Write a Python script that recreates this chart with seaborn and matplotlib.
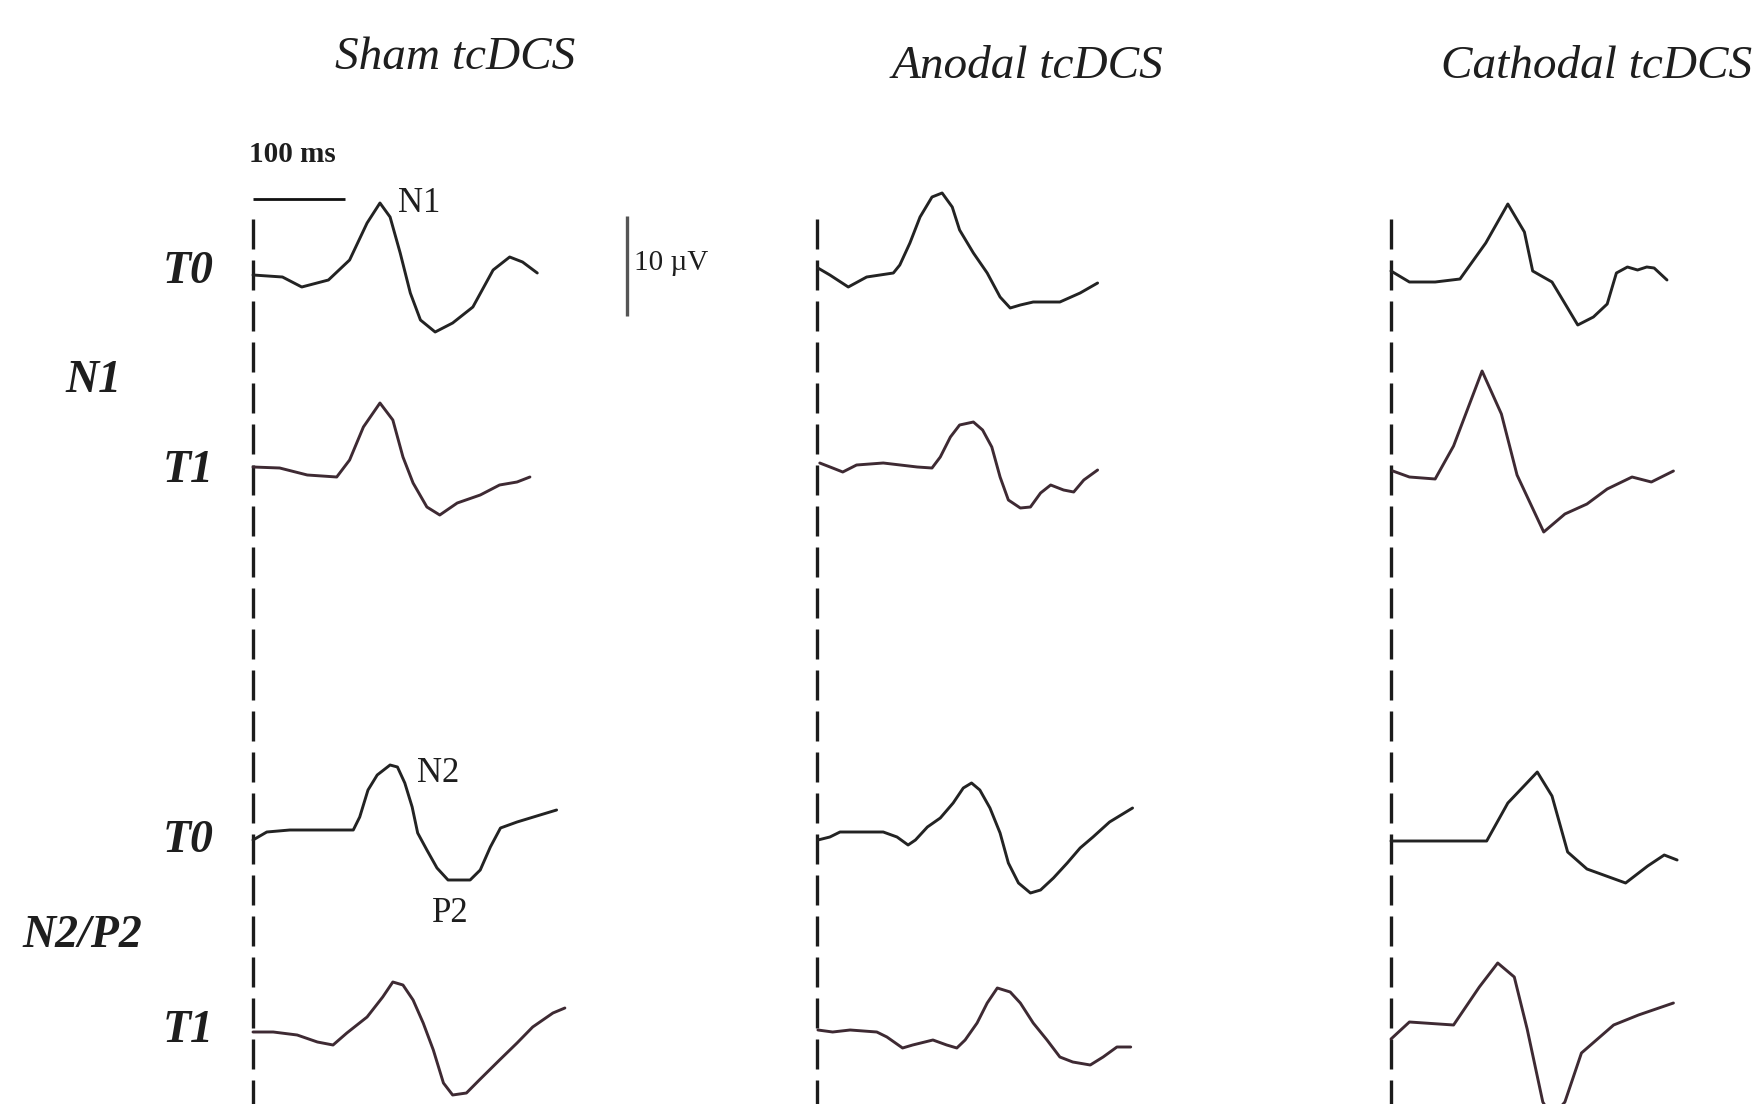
import numpy as np
import pandas as pd
import matplotlib
matplotlib.use('Agg')
import matplotlib.pyplot as plt
import seaborn as sns

# conditions (columns) and rows
conditions = ['Sham tcDCS', 'Anodal tcDCS', 'Cathodal tcDCS']
row_names = ['T0', 'T1', 'T0', 'T1']
row_offset = [0.0, 19.2, 56.0, 75.7]   # uV, stacking of the traces
component_labels = ['N1', 'N2/P2']

# time (ms) / amplitude (uV, negative up)
sham_t0_n1_t = [0, 32, 53, 82, 105, 124, 138, 149, 160, 171, 182, 198, 217, 239, 261, 279, 293, 309]
sham_t0_n1_v = [0, 0.2, 1.2, 0.5, -1.5, -5.2, -7.2, -5.8, -2.2, 1.8, 4.5, 5.7, 4.8, 3.2, -0.5, -1.8, -1.3, -0.2]
sham_t1_n1_t = [0, 29, 59, 91, 105, 120, 138, 152, 163, 174, 189, 203, 222, 247, 268, 287, 301]
sham_t1_n1_v = [0, 0.1, 0.8, 1.0, -0.7, -4.0, -6.4, -4.7, -1.0, 1.6, 4.0, 4.8, 3.6, 2.8, 1.8, 1.5, 1.0]
sham_t0_n2_t = [0, 15, 40, 76, 109, 116, 125, 135, 149, 157, 165, 173, 179, 189, 200, 212, 236, 247, 258, 269, 287, 312, 330]
sham_t0_n2_v = [0.5, -0.3, -0.5, -0.5, -0.5, -1.8, -4.5, -6.0, -7.0, -6.8, -5.2, -2.8, -0.2, 1.5, 3.3, 4.5, 4.5, 3.5, 1.2, -0.7, -1.3, -2.0, -2.5]
sham_t1_n2_t = [0, 22, 48, 70, 87, 102, 124, 141, 152, 163, 174, 185, 196, 207, 217, 232, 246, 268, 287, 304, 326, 339]
sham_t1_n2_v = [0, 0, 0.3, 1.0, 1.3, 0.1, -1.5, -3.5, -5.0, -4.7, -3.2, -0.9, 1.8, 5.1, 6.3, 6.1, 4.8, 2.8, 1.1, -0.5, -1.9, -2.4]

anod_t0_n1_t = [1, 14, 34, 54, 83, 90, 101, 112, 125, 136, 147, 155, 170, 185, 199, 210, 221, 235, 264, 286, 305]
anod_t0_n1_v = [-0.7, 0, 1.2, 0.2, -0.2, -1.0, -3.2, -5.8, -7.8, -8.2, -6.8, -4.5, -2.2, -0.2, 2.2, 3.3, 3.0, 2.7, 2.7, 1.8, 0.8]
anod_t1_n1_t = [3, 17, 28, 43, 72, 109, 125, 134, 145, 155, 170, 180, 190, 199, 208, 221, 232, 243, 254, 268, 279, 290, 305]
anod_t1_n1_v = [-0.4, 0.1, 0.5, -0.2, -0.4, 0, 0.1, -1.0, -3.0, -4.2, -4.5, -3.7, -2.0, 1.0, 3.3, 4.1, 4.0, 2.6, 1.8, 2.3, 2.5, 1.3, 0.3]
anod_t0_n2_t = [1, 14, 25, 72, 87, 99, 107, 120, 134, 148, 159, 168, 177, 188, 199, 208, 219, 232, 243, 257, 272, 286, 300, 318, 343]
anod_t0_n2_v = [0.5, 0.2, -0.3, -0.3, 0.2, 1.0, 0.5, -0.8, -1.7, -3.2, -4.7, -5.2, -4.5, -2.7, -0.2, 2.8, 4.8, 5.8, 5.5, 4.3, 2.8, 1.3, 0.2, -1.3, -2.7]
anod_t1_n2_t = [1, 17, 36, 65, 76, 93, 104, 126, 141, 152, 161, 174, 185, 196, 210, 221, 235, 250, 264, 278, 297, 311, 326, 341]
anod_t1_n2_v = [-0.2, 0, -0.2, 0, 0.5, 1.6, 1.3, 0.8, 1.3, 1.6, 0.8, -0.9, -2.9, -4.4, -4.0, -2.9, -0.9, 0.8, 2.5, 3.0, 3.3, 2.5, 1.5, 1.5]

cath_t0_n1_t = [0, 20, 48, 75, 103, 127, 145, 154, 175, 190, 203, 220, 235, 245, 257, 268, 278, 286, 300]
cath_t0_n1_v = [-0.4, 0.7, 0.7, 0.4, -3.2, -7.1, -4.3, -0.4, 0.7, 3.0, 5.0, 4.2, 2.9, -0.2, -0.8, -0.5, -0.8, -0.7, 0.5]
cath_t1_n1_t = [2, 20, 48, 68, 99, 120, 137, 166, 189, 213, 235, 262, 283, 307]
cath_t1_n1_v = [0.4, 1.0, 1.2, -2.1, -9.6, -5.3, 0.8, 6.5, 4.7, 3.7, 2.2, 1.0, 1.5, 0.4]
cath_t0_n2_t = [0, 104, 127, 159, 175, 192, 213, 255, 279, 297, 311]
cath_t0_n2_v = [0.6, 0.6, -3.2, -6.3, -3.9, 1.7, 3.4, 4.8, 3.1, 2.0, 2.5]
cath_t1_n2_t = [0, 20, 68, 96, 116, 134, 148, 165, 175, 189, 207, 242, 269, 307]
cath_t1_n2_v = [0.7, -1.0, -0.7, -4.5, -6.9, -5.5, -0.3, 7.0, 8.5, 7.0, 2.1, -0.7, -1.7, -2.9]

traces = [
    [(sham_t0_n1_t, sham_t0_n1_v), (sham_t1_n1_t, sham_t1_n1_v), (sham_t0_n2_t, sham_t0_n2_v), (sham_t1_n2_t, sham_t1_n2_v)],
    [(anod_t0_n1_t, anod_t0_n1_v), (anod_t1_n1_t, anod_t1_n1_v), (anod_t0_n2_t, anod_t0_n2_v), (anod_t1_n2_t, anod_t1_n2_v)],
    [(cath_t0_n1_t, cath_t0_n1_v), (cath_t1_n1_t, cath_t1_n1_v), (cath_t0_n2_t, cath_t0_n2_v), (cath_t1_n2_t, cath_t1_n2_v)],
]

# layout in pixels
W, H = 1758, 1104
PX_MS = 0.92     # px per ms
PX_UV = 10.0     # px per uV
Y0 = 275         # pixel row of the first baseline
col_x0 = [253, 817, 1391]
colors = {'T0': '#232323', 'T1': '#3e2a33'}

sns.set_theme(style='white')
plt.rcParams['font.family'] = ['Liberation Serif', 'DejaVu Serif']

fig = plt.figure(figsize=(W / 100, H / 100), dpi=100)
fig.patch.set_facecolor('white')

v_top = -Y0 / PX_UV
v_bot = (H - Y0) / PX_UV

axes = []
for c, x0 in enumerate(col_x0):
    left = x0 - 60
    right = min(x0 + 460, W)
    ax = fig.add_axes([left / W, 0, (right - left) / W, 1])
    ax.set_axis_off()
    ax.patch.set_alpha(0)
    # stimulus onset
    ax.vlines(0, -5.6, v_bot + 2, colors='#1c1c1c', lw=2.4, linestyles=(0, (9, 3.3)))
    for r, (tt, vv) in enumerate(traces[c]):
        df = pd.DataFrame({'t': tt, 'v': np.array(vv) + row_offset[r]})
        sns.lineplot(data=df, x='t', y='v', sort=False, estimator=None,
                     color=colors[row_names[r]], lw=2.1, ax=ax, legend=False,
                     solid_joinstyle='round', solid_capstyle='round')
    ax.set_xlim((left - x0) / PX_MS, (right - x0) / PX_MS)
    ax.set_ylim(v_bot, v_top)
    axes.append(ax)

# scale bars on sham panel
ax = axes[0]
ax.plot([0, 100], [-7.6, -7.6], color='#111111', lw=2.0, solid_capstyle='butt')
ax.plot([407, 407], [-5.9, 4.1], color='#555555', lw=2.4, solid_capstyle='butt')


def ftext(x, y, s, **kw):
    fig.text(x / W, 1 - y / H, s, **kw)


title_kw = dict(fontsize=34, fontstyle='italic', color='#1e1e1e', va='center')
ftext(455, 58, conditions[0], ha='center', **title_kw)
ftext(1027, 67, conditions[1], ha='center', **title_kw)
ftext(1441, 67, conditions[2], ha='left', **title_kw)

lab_kw = dict(fontsize=33, fontstyle='italic', fontweight='bold', color='#1e1e1e', va='center')
for r, yy in enumerate([272, 471, 841, 1031]):
    ftext(214, yy, row_names[r], ha='right', **lab_kw)
ftext(65, 381, component_labels[0], ha='left', **lab_kw)
ftext(22, 936, component_labels[1], ha='left', **lab_kw)

small_kw = dict(color='#1e1e1e', va='center', ha='left')
ftext(249, 154, '100 ms', fontsize=21, fontweight='bold', **small_kw)
ftext(398, 204, 'N1', fontsize=25, **small_kw)
ftext(634, 263, '10 µV', fontsize=21, **small_kw)
ftext(417, 773, 'N2', fontsize=25, **small_kw)
ftext(432, 914, 'P2', fontsize=25, **small_kw)

fig.savefig('out.png', dpi=100, facecolor='white')
